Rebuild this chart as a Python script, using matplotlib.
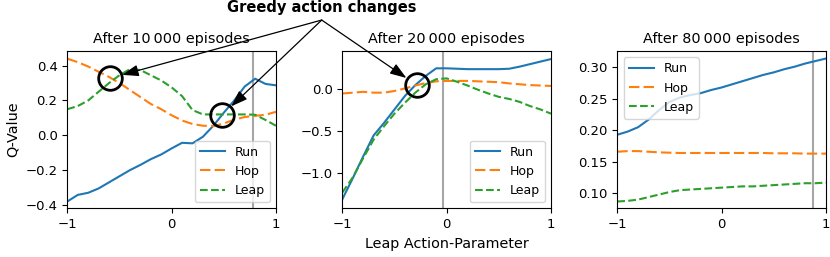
import numpy as np
import matplotlib
matplotlib.use("Agg")
import matplotlib.pyplot as plt

# leap action-parameter grid
x = np.round(np.arange(-1, 1.01, 0.1), 2)

# after 10 000 episodes
run_10k = [-0.38, -0.342, -0.33, -0.305, -0.27, -0.235, -0.2, -0.17, -0.137, -0.11, -0.075,
           -0.043, -0.046, -0.008, 0.055, 0.13, 0.2, 0.28, 0.325, 0.295, 0.287]
hop_10k = [0.44, 0.42, 0.395, 0.365, 0.335, 0.3, 0.26, 0.22, 0.18, 0.15, 0.115,
           0.085, 0.065, 0.055, 0.053, 0.068, 0.09, 0.105, 0.112, 0.118, 0.135]
leap_10k = [0.15, 0.168, 0.2, 0.25, 0.3, 0.345, 0.38, 0.375, 0.345, 0.315, 0.275,
            0.225, 0.145, 0.12, 0.12, 0.12, 0.12, 0.12, 0.118, 0.088, 0.055]

# after 20 000 episodes
run_20k = [-1.31, -1.06, -0.8, -0.55, -0.4, -0.24, -0.08, 0.05, 0.16, 0.25, 0.25,
           0.245, 0.24, 0.24, 0.24, 0.24, 0.245, 0.27, 0.3, 0.33, 0.36]
hop_20k = [-0.05, -0.04, -0.03, -0.04, -0.04, -0.02, 0.01, 0.045, 0.075, 0.095, 0.1,
           0.1, 0.1, 0.095, 0.09, 0.085, 0.07, 0.06, 0.05, 0.045, 0.04]
leap_20k = [-1.23, -1.05, -0.82, -0.6, -0.44, -0.29, -0.16, -0.04, 0.06, 0.12, 0.13,
            0.09, 0.045, -0.005, -0.05, -0.09, -0.115, -0.15, -0.2, -0.24, -0.29]

# after 80 000 episodes
run_80k = [0.193, 0.198, 0.205, 0.217, 0.232, 0.245, 0.252, 0.256, 0.259, 0.264, 0.268,
           0.273, 0.278, 0.283, 0.288, 0.292, 0.297, 0.301, 0.306, 0.310, 0.314]
hop_80k = [0.166, 0.167, 0.167, 0.166, 0.165, 0.1645, 0.164, 0.164, 0.164, 0.164, 0.164,
           0.164, 0.164, 0.164, 0.164, 0.1635, 0.1635, 0.1635, 0.163, 0.163, 0.163]
leap_80k = [0.087, 0.088, 0.09, 0.094, 0.098, 0.102, 0.105, 0.106, 0.107, 0.108, 0.109,
            0.11, 0.111, 0.111, 0.112, 0.113, 0.114, 0.115, 0.116, 0.116, 0.117]

titles = ["After 10\u2009000 episodes", "After 20\u2009000 episodes", "After 80\u2009000 episodes"]
vlines = [0.78, -0.03, 0.88]
# where the greedy action switches (circled)
changes = [(0, -0.59, 0.328), (0, 0.485, 0.117), (1, -0.287, 0.051)]

panels = [(run_10k, hop_10k, leap_10k), (run_20k, hop_20k, leap_20k), (run_80k, hop_80k, leap_80k)]
ylims = [(-0.419, 0.484), (-1.417, 0.456), (0.0762, 0.3259)]
yticks = [[-0.4, -0.2, 0.0, 0.2, 0.4], [-1.0, -0.5, 0.0], [0.10, 0.15, 0.20, 0.25, 0.30]]
legend_loc = ["lower right", "lower right", "upper left"]

fig = plt.figure(figsize=(8.3, 2.57), dpi=100)
lefts = [0.0811, 0.4124, 0.7437]
axes = []
for i in range(3):
    ax = fig.add_axes([lefts[i], 0.1895, 0.2514, 0.612])
    axes.append(ax)
    run, hop, leap = panels[i]
    ax.axvline(vlines[i], color="gray", alpha=0.7, lw=1.5)
    ax.plot(x, run, color="C0", lw=1.5, label="Run")
    ax.plot(x, hop, color="C1", lw=1.5, ls=(0, (5, 2)), label="Hop")
    ax.plot(x, leap, color="C2", lw=1.5, ls="--", label="Leap")
    ax.set_xlim(-1, 1)
    ax.set_ylim(ylims[i])
    ax.set_xticks([-1, 0, 1])
    ax.set_yticks(yticks[i])
    ax.tick_params(labelsize=9.5)
    ax.set_title(titles[i], fontsize=10.4)
    ax.legend(loc=legend_loc[i], fontsize=9)

axes[0].set_ylabel("Q-Value", fontsize=10.4)
axes[1].set_xlabel("Leap Action-Parameter", fontsize=10.4)

src = (0.3876, 0.922)
fig.text(src[0], 0.97, "Greedy action changes", ha="center", va="center",
         fontsize=10.5, fontweight="bold")
for i, cx, cy in changes:
    ax = axes[i]
    ax.plot([cx], [cy], marker="o", ms=17, mfc="none", mec="k", mew=2, clip_on=False)
    ax.annotate("", xy=(cx, cy), xycoords="data", xytext=src, textcoords="figure fraction",
                arrowprops=dict(arrowstyle="-|>,head_length=1.0,head_width=0.35",
                                color="k", lw=0.9, shrinkA=0, shrinkB=9),
                annotation_clip=False)

fig.savefig("out.png", dpi=100)
